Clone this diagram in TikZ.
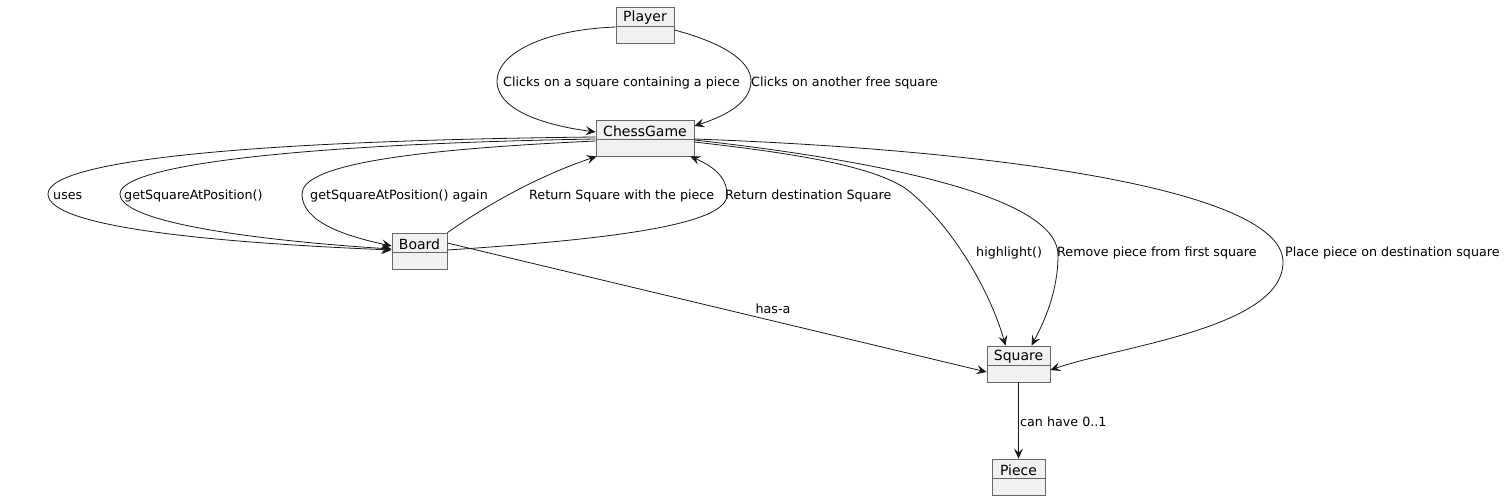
\documentclass[tikz,border=0pt]{standalone}
\usepackage{fontspec}
\setmainfont{DejaVu Sans}
\usetikzlibrary{arrows.meta}
\definecolor{boxfill}{HTML}{F1F1F1}
\definecolor{boxline}{HTML}{666666}
\definecolor{edge}{HTML}{181818}
\tikzset{
  cls/.style={draw=boxline, fill=boxfill, line width=0.8pt, minimum height=36pt, inner sep=0pt},
  clsname/.style={font=\fontsize{14}{16}\selectfont, inner sep=0pt},
  lbl/.style={font=\fontsize{12.7}{15}\selectfont, inner sep=0pt, anchor=west, text=black, yshift=-2pt},
  conn/.style={draw=edge, line width=0.8pt, -{Stealth[length=10pt,width=9pt,inset=4pt]}},
}
\newcommand{\umlclass}[4]{%
  \node[cls, minimum width=#3pt] (#1) at (#2) {};
  \draw[boxline, line width=0.8pt] ([yshift=-20pt]#1.north west) -- ([yshift=-20pt]#1.north east);
  \node[clsname] (#1-name) at ([yshift=-11.5pt]#1.north) {#4};
}
\begin{document}
\begin{tikzpicture}[x=1pt, y=-1pt]
\useasboundingbox (0,0) rectangle (1506,500);

\umlclass{player}{645,25}{58}{Player}
\umlclass{chess}{645,138}{98}{ChessGame}
\umlclass{board}{419.5,251}{55}{Board}
\umlclass{square}{1018.5,364}{63}{Square}
\umlclass{piece}{1018.5,477}{53}{Piece}

% Player -> ChessGame
\draw[conn] ([yshift=-2pt]player.west) .. controls (540,30) and (497,55) .. (497,81)
   .. controls (497,112) and (550,126) .. ([yshift=6pt]chess.west);
\draw[conn] ([yshift=-5pt]player.east) .. controls (720,42) and (751,60) .. (751,81)
   .. controls (751,104) and (722,117) .. ([yshift=12pt]chess.east);
\node[lbl] (l1) at (503,81) {Clicks on a square containing a piece};
\node[lbl] (l2) at (751,81) {Clicks on another free square};

% ChessGame -> Board
\draw[conn] ([yshift=1pt]chess.west) .. controls (220,141) and (48,163) .. (48,194)
   .. controls (48,226) and (200,242) .. ([yshift=1pt]board.west);
\draw[conn] ([yshift=-1pt]chess.west) .. controls (300,144) and (120,165) .. (120,194)
   .. controls (120,225) and (280,242) .. ([yshift=2pt]board.west);
\draw[conn] ([yshift=-3pt]chess.west) .. controls (400,150) and (302,166) .. (302,194)
   .. controls (302,222) and (345,236) .. ([yshift=5pt]board.west);
\node[lbl] (l3) at (53,194) {uses};
\node[lbl] (l4) at (124,194) {getSquareAtPosition()};
\node[lbl] (l5) at (310,194) {getSquareAtPosition() again};

% Board -> ChessGame
\draw[conn] (board.north east) .. controls (500,196) and (550,172) .. ([xshift=1pt]chess.south west);
\draw[conn] ([yshift=1pt]board.east) .. controls (600,240) and (727,226) .. (727,195)
   .. controls (727,176) and (712,166) .. ([xshift=-4pt]chess.south east);
\node[lbl] (l6) at (529,194) {Return Square with the piece};
\node[lbl] (l7) at (725,194) {Return destination Square};

% ChessGame -> Square
\draw[conn] ([yshift=-4pt]chess.east) .. controls (800,154) and (870,166) .. (905,188)
   .. controls (950,222) and (990,290) .. ([xshift=-13pt]square.north);
\draw[conn] ([yshift=-2pt]chess.east) .. controls (900,163) and (1058,200) .. (1058,255)
   .. controls (1058,292) and (1044,322) .. ([xshift=13pt]square.north);
\draw[conn] ([yshift=-1pt]chess.east) .. controls (1000,150) and (1283,190) .. (1283,262)
   .. controls (1283,328) and (1120,346) .. ([yshift=-6pt]square.east);
\node[lbl] (l8) at (976,251) {highlight()};
\node[lbl] (l9) at (1057,251) {Remove piece from first square};
\node[lbl] (l10) at (1285,251) {Place piece on destination square};

% Board -> Square
\draw[conn] ([yshift=8pt]board.east) -- ([yshift=-8pt]square.west);
\node[lbl, anchor=center] (l11) at (773,307) {has-a};

% Square -> Piece
\draw[conn] (square.south) -- (piece.north);
\node[lbl] (l12) at (1020,420) {can have 0..1};
\end{tikzpicture}
\end{document}
